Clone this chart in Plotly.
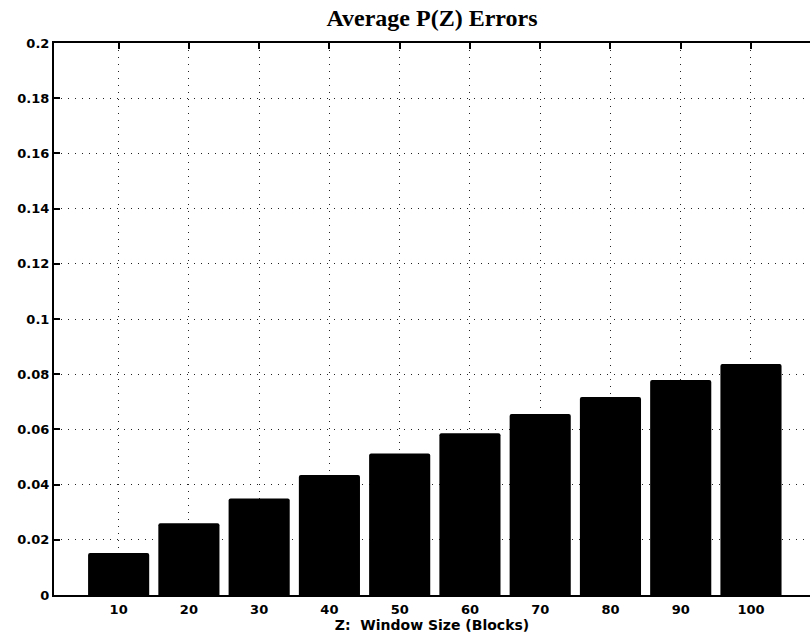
import plotly.graph_objects as go

# Window sizes (blocks) and the average P(Z) error for each
window_sizes = [10, 20, 30, 40, 50, 60, 70, 80, 90, 100]
avg_errors = [0.0152, 0.0260, 0.0350, 0.0435, 0.0513, 0.0586, 0.0656, 0.0717, 0.0779, 0.0837]

y_ticks = [0, 0.02, 0.04, 0.06, 0.08, 0.1, 0.12, 0.14, 0.16, 0.18, 0.2]
y_tick_labels = ["0", "0.02", "0.04", "0.06", "0.08", "0.1", "0.12", "0.14", "0.16", "0.18", "0.2"]

sans = "DejaVu Sans, Arial, sans-serif"
tick_font = dict(family=sans, size=13, color="black", weight="bold")
grid_style = dict(showgrid=True, gridcolor="#222222", gridwidth=1, griddash="1px,6px")

fig = go.Figure(
    go.Bar(
        x=window_sizes,
        y=avg_errors,
        width=8.7,
        marker=dict(color="black", line=dict(width=0), cornerradius=2),
    )
)

fig.update_layout(
    width=810,
    height=640,
    margin=dict(l=54, r=0, t=43, b=45),
    paper_bgcolor="white",
    plot_bgcolor="white",
    showlegend=False,
    title=dict(
        text="Average P(Z) Errors",
        font=dict(family="Liberation Serif, Times New Roman, serif", size=24, color="black", weight="bold"),
        x=0.5,
        xref="paper",
        xanchor="center",
        y=1 - 18 / 640,
        yref="container",
        yanchor="middle",
    ),
    xaxis=dict(
        range=[0.8, 108.4],
        tickvals=window_sizes,
        ticktext=[str(v) for v in window_sizes],
        ticks="inside",
        ticklen=6,
        tickwidth=2,
        tickcolor="black",
        tickfont=tick_font,
        ticklabelstandoff=1,
        showline=True,
        linecolor="black",
        linewidth=2,
        mirror="ticks",
        zeroline=False,
        title=dict(
            text="Z:  Window Size (Blocks)",
            font=dict(family=sans, size=14, color="black", weight="bold"),
            standoff=0,
        ),
        **grid_style,
    ),
    yaxis=dict(
        range=[0, 0.2],
        tickvals=y_ticks,
        ticktext=y_tick_labels,
        ticks="inside",
        ticklen=6,
        tickwidth=2,
        tickcolor="black",
        tickfont=tick_font,
        showline=True,
        linecolor="black",
        linewidth=2,
        zeroline=False,
        **grid_style,
    ),
)

fig.write_html("out.html")
